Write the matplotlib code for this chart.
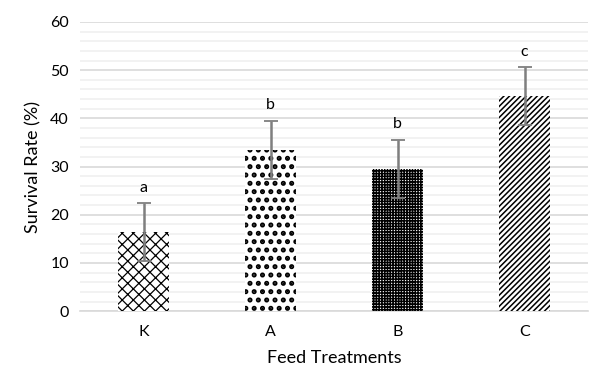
import numpy as np
import matplotlib.pyplot as plt
from matplotlib.ticker import MultipleLocator

plt.rcParams['font.family'] = ['Lato', 'DejaVu Sans']

# Données
treatments = ['K', 'A', 'B', 'C']
survival = [16.4, 33.5, 29.5, 44.6]
sd = [6.0, 6.0, 6.1, 6.0]
letters = ['a', 'b', 'b', 'c']
hatches = ['xxx', '..', '++++++', '//////']
hatch_lw = [0.9, 2.4, 1.1, 1.1]

fig = plt.figure(figsize=(6.07, 3.79), dpi=100)
ax = fig.add_axes([0.132, 0.179, 0.837, 0.763])

x = np.arange(len(treatments))
for xi, v, h, hl in zip(x, survival, hatches, hatch_lw):
    with plt.rc_context({'hatch.linewidth': hl}):
        bars = ax.bar(xi, v, width=0.4, color='white', edgecolor='black',
                      linewidth=0, hatch=h, zorder=3)
    for b in bars:
        if hasattr(b, 'set_hatch_linewidth'):
            b.set_hatch_linewidth(hl)

ax.errorbar(x, survival, yerr=sd, fmt='none', ecolor='#7f7f7f',
            elinewidth=1.8, capsize=5, capthick=1.3, zorder=4)

for xi, v, s, lab in zip(x, survival, sd, letters):
    ax.text(xi, v + s + 1.8, lab, ha='center', va='bottom', fontsize=11.5)

ax.set_xlim(-0.5, len(treatments) - 0.5)
ax.set_ylim(0, 60)
ax.yaxis.set_major_locator(MultipleLocator(10))
ax.yaxis.set_minor_locator(MultipleLocator(2))
ax.grid(axis='y', which='major', color='#d9d9d9', linewidth=1.2, zorder=0)
ax.grid(axis='y', which='minor', color='#f0f0f0', linewidth=1.2, zorder=0)
ax.set_axisbelow(True)

for sp in ['top', 'right', 'left']:
    ax.spines[sp].set_visible(False)
ax.spines['bottom'].set_color('#d9d9d9')
ax.spines['bottom'].set_linewidth(1.2)
ax.tick_params(axis='both', which='both', length=0, labelsize=11.5, pad=10)
ax.tick_params(axis='y', pad=8)

ax.set_xticks(x)
ax.set_xticklabels(treatments)
ax.set_xlabel('Feed Treatments', fontsize=13, labelpad=8)
ax.set_ylabel('Survival Rate (%)', fontsize=13, labelpad=6)

fig.savefig('out.png', dpi=100)
